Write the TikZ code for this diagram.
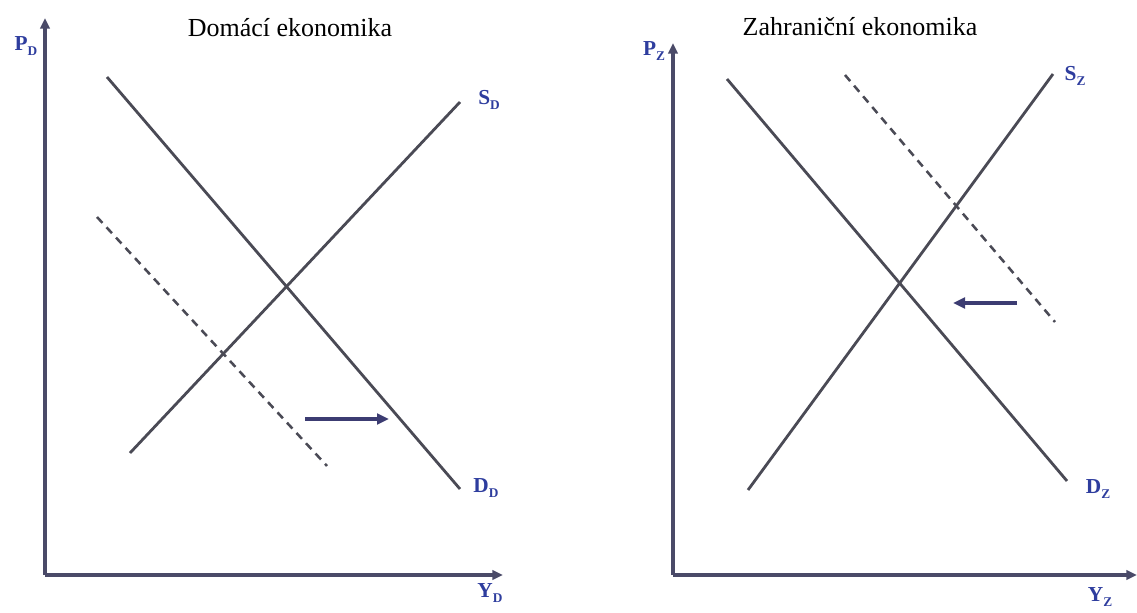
\documentclass[tikz,border=0pt]{standalone}
\usepackage{fontspec}
\setmainfont{Liberation Serif}
\usetikzlibrary{arrows.meta}
\definecolor{axiscol}{HTML}{4A4A68}
\definecolor{curvecol}{HTML}{4A4A55}
\definecolor{arrcol}{HTML}{3C3C72}
\definecolor{labcol}{HTML}{2E3D9E}
\newcommand{\lbl}[2]{#1\raisebox{-0.45ex}{\fontsize{10}{11}\selectfont #2}}
\tikzset{
  axis/.style={draw=axiscol, line width=2.4pt, -{Triangle[length=8pt,width=7pt]}},
  curve/.style={draw=curvecol, line width=2.1pt},
  dcurve/.style={draw=curvecol, line width=1.9pt, dash pattern=on 6pt off 4.5pt},
  shiftarrow/.style={draw=arrcol, line width=2.8pt, -{Triangle[length=9pt,width=8pt]}},
  lab/.style={text=labcol, font=\bfseries\fontsize{16}{18}\selectfont, inner sep=0pt},
  ttl/.style={font=\fontsize{19.5}{22}\selectfont, inner sep=0pt}
}
\begin{document}
\begin{tikzpicture}[x=0.75pt,y=-0.75pt]
\useasboundingbox (0,0) rectangle (1137,613);
% ---------- left panel ----------
\coordinate (o1) at (45,575);
\coordinate (y1) at (45,18);
\coordinate (x1) at (503,575);
\draw[axis] (o1) -- (y1);
\draw[axis] (o1) -- (x1);
\node[ttl] (t1) at (290,28) {Domácí ekonomika};
\node[lab] (p1) at (26,46) {\lbl{P}{D}};
\node[lab] (q1) at (490,593) {\lbl{Y}{D}};
\coordinate (d1a) at (107,77);
\coordinate (d1b) at (460,489);
\coordinate (s1a) at (130,453);
\coordinate (s1b) at (460,102);
\coordinate (dd1a) at (97,217);
\coordinate (dd1b) at (327,466);
\draw[curve] (d1a) -- (d1b);
\draw[curve] (s1a) -- (s1b);
\draw[dcurve] (dd1a) -- (dd1b);
\node[lab] (sl1) at (489,100) {\lbl{S}{D}};
\node[lab] (dl1) at (486,488) {\lbl{D}{D}};
\coordinate (a1a) at (305,419);
\coordinate (a1b) at (389,419);
\draw[shiftarrow] (a1a) -- (a1b);
% ---------- right panel ----------
\coordinate (o2) at (673,575);
\coordinate (y2) at (673,43);
\coordinate (x2) at (1137,575);
\draw[axis] (o2) -- (y2);
\draw[axis] (o2) -- (x2);
\node[ttl] (t2) at (860,27) {Zahraniční ekonomika};
\node[lab] (p2) at (654,51) {\lbl{P}{Z}};
\node[lab] (q2) at (1100,597) {\lbl{Y}{Z}};
\coordinate (d2a) at (727,79);
\coordinate (d2b) at (1067,481);
\coordinate (s2a) at (748,490);
\coordinate (s2b) at (1053,74);
\coordinate (dd2a) at (845,75);
\coordinate (dd2b) at (1055,322);
\draw[curve] (d2a) -- (d2b);
\draw[curve] (s2a) -- (s2b);
\draw[dcurve] (dd2a) -- (dd2b);
\node[lab] (sl2) at (1075,76) {\lbl{S}{Z}};
\node[lab] (dl2) at (1098,489) {\lbl{D}{Z}};
\coordinate (a2a) at (1017,303);
\coordinate (a2b) at (953,303);
\draw[shiftarrow] (a2a) -- (a2b);
\end{tikzpicture}
\end{document}
